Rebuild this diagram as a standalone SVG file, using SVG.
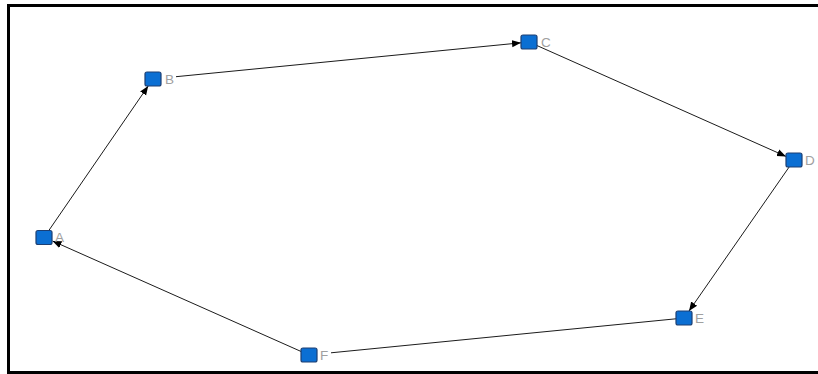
<svg xmlns="http://www.w3.org/2000/svg" width="818" height="374" viewBox="0 0 818 374">
<style>
.node rect.sq{fill:#0b6fd3;stroke:#1c3f73;stroke-width:1.2}
.node text{font-family:"Liberation Sans","DejaVu Sans",sans-serif;font-size:13.5px;fill:#a0a0a0}
.edges line{stroke:#000;stroke-width:0.9}
</style>
<defs>
<marker id="arr" viewBox="0 0 10 10" refX="10" refY="5" markerWidth="9" markerHeight="9" markerUnits="userSpaceOnUse" orient="auto">
<path d="M0,1 L10,5 L0,9 Z" fill="#000"/>
</marker>
</defs>
<rect x="0" y="0" width="818" height="374" fill="#fff"/>
<rect x="8.5" y="5.5" width="815" height="367" fill="none" stroke="#000" stroke-width="3"/>
<g class="edges">
<line x1="44" y1="237.5" x2="148.2" y2="86" marker-end="url(#arr)"/>
<line x1="176" y1="76.7" x2="521" y2="42.8" marker-end="url(#arr)"/>
<line x1="529" y1="42" x2="786" y2="156.4" marker-end="url(#arr)"/>
<line x1="794" y1="160" x2="689" y2="311" marker-end="url(#arr)"/>
<line x1="309" y1="355" x2="52.5" y2="241" marker-end="url(#arr)"/>
<line x1="331" y1="352.8" x2="684" y2="318"/>
</g>
<g id="node-A" class="node"><rect class="sq" x="36" y="230.5" width="16" height="14" rx="2"/><text x="55" y="242">A</text></g>
<g id="node-B" class="node"><rect class="sq" x="145" y="72" width="16" height="14" rx="2"/><text x="165" y="84">B</text></g>
<g id="node-C" class="node"><rect class="sq" x="521" y="35" width="16" height="14" rx="2"/><text x="541" y="47">C</text></g>
<g id="node-D" class="node"><rect class="sq" x="786" y="153" width="16" height="14" rx="2"/><text x="805" y="165">D</text></g>
<g id="node-E" class="node"><rect class="sq" x="676" y="311" width="16" height="14" rx="2"/><text x="695" y="323">E</text></g>
<g id="node-F" class="node"><rect class="sq" x="301" y="348" width="16" height="14" rx="2"/><text x="320" y="360">F</text></g>
</svg>
